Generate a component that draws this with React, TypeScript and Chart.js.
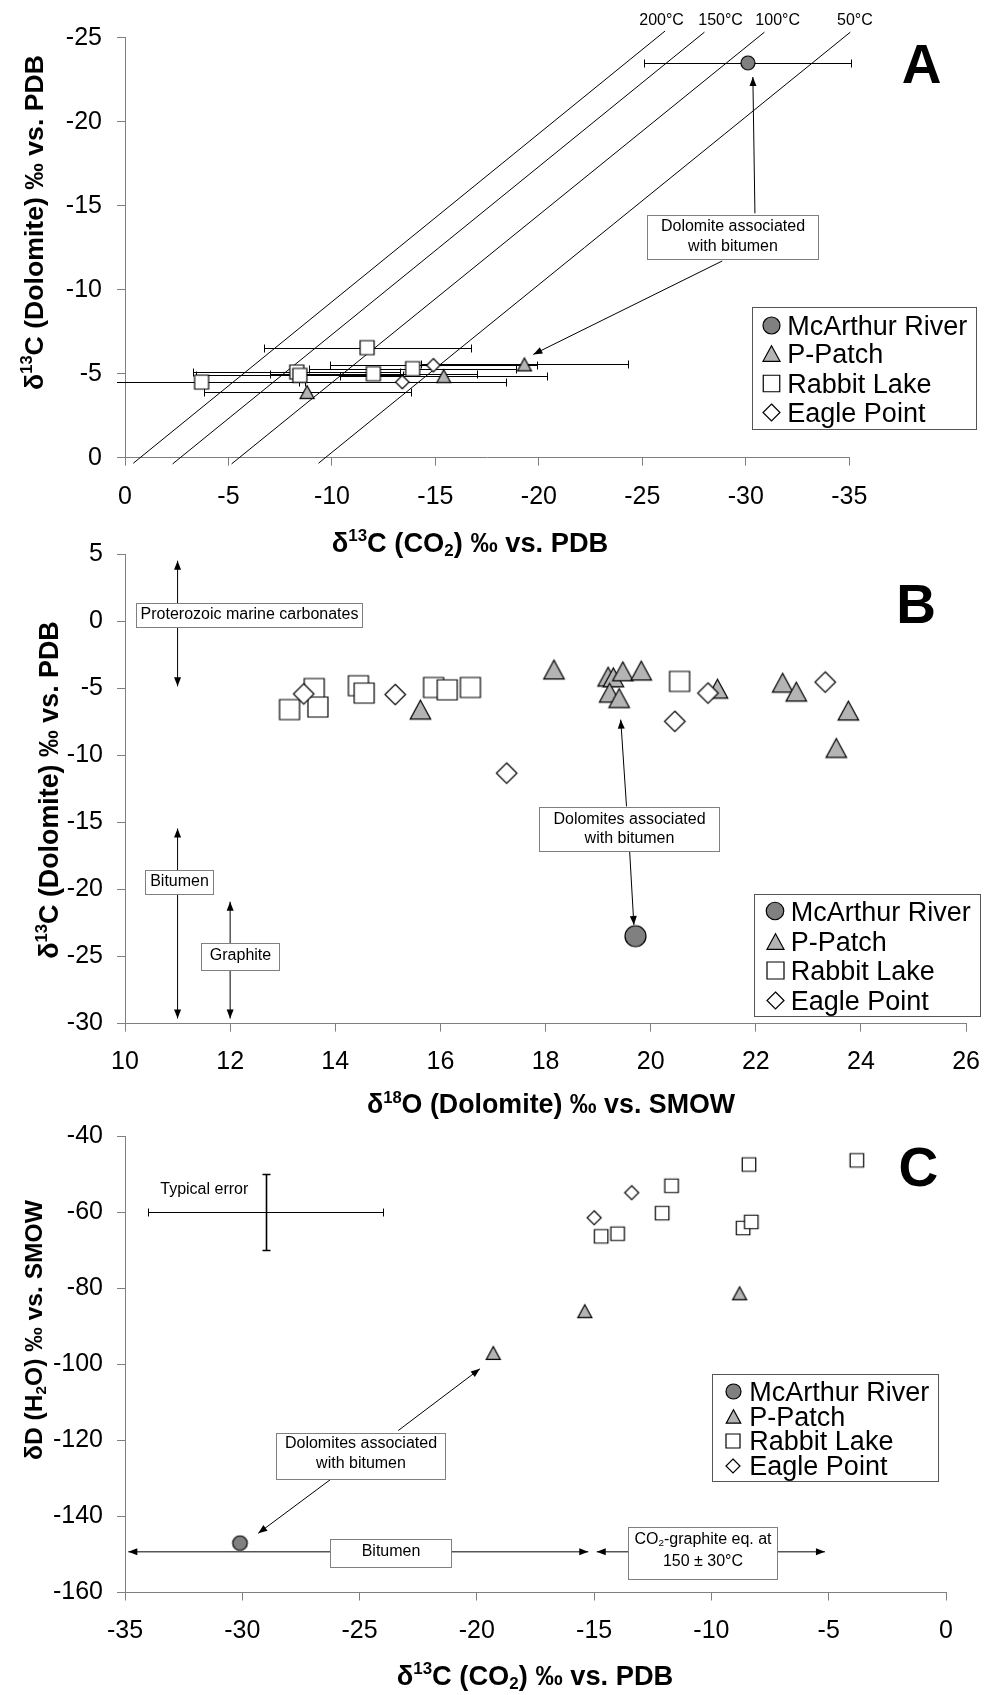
import React, { useEffect, useRef } from 'react';
import { Chart, registerables } from 'chart.js';

Chart.register(...registerables);

const FONT = "'Liberation Sans', Arial, Helvetica, sans-serif";
const AXIS = '#7f7f7f';
const BOXLINE = '#808080';
const CIRCLE_FILL = '#808080';
const TRI_FILL = '#b4b4b4';

const seriesNames = ['McArthur River', 'P-Patch', 'Rabbit Lake', 'Eagle Point'];

// ---------------- Panel A ----------------
const aXTicks = [0, -5, -10, -15, -20, -25, -30, -35];
const aXTickLabels = ['0', '-5', '-10', '-15', '-20', '-25', '-30', '-35'];
const aYTicks = [0, -5, -10, -15, -20, -25];
const aYTickLabels = ['0', '-5', '-10', '-15', '-20', '-25'];

const aMcArthurX = [-30.1];
const aMcArthurY = [-23.5];
const aMcArthurErr = [5];
const aPPatchX = [-8.8, -15.4, -19.3];
const aPPatchY = [-3.9, -4.85, -5.55];
const aPPatchErr = [5, 5, 5];
const aRabbitX = [-3.7, -8.3, -8.45, -11.7, -12.0, -13.9];
const aRabbitY = [-4.5, -5.1, -4.9, -6.55, -5.0, -5.3];
const aRabbitErr = [5, 5, 5, 5, 5, 5];
const aEagleX = [-13.4, -14.9];
const aEagleY = [-4.5, -5.5];
const aEagleErr = [5, 5];

const tempLabels = ['200°C', '150°C', '100°C', '50°C'];
const tempStartX = [-0.4, -2.3, -5.15, -9.35];
const tempStartY = [0.33, 0.37, 0.37, 0.33];
const tempEndX = [-26.1, -28.0, -30.9, -35.05];
const tempEndY = [-25.4, -25.33, -25.33, -25.33];
const tempLabelX = [-25.93, -28.78, -31.54, -35.27];
const tempLabelY = [-26.11, -26.11, -26.11, -26.11];

// ---------------- Panel B ----------------
const bXTicks = [10, 12, 14, 16, 18, 20, 22, 24, 26];
const bXTickLabels = ['10', '12', '14', '16', '18', '20', '22', '24', '26'];
const bYTicks = [5, 0, -5, -10, -15, -20, -25, -30];
const bYTickLabels = ['5', '0', '-5', '-10', '-15', '-20', '-25', '-30'];

const bMcArthurX = [19.71];
const bMcArthurY = [-23.48];
const bPPatchX = [15.62, 18.16, 19.19, 19.29, 19.47, 19.82, 19.22, 19.4, 21.27, 22.51, 22.77, 23.76, 23.53];
const bPPatchY = [-6.59, -3.6, -4.13, -4.18, -3.73, -3.68, -5.33, -5.73, -5.03, -4.58, -5.25, -6.66, -9.45];
const bRabbitX = [13.13, 13.6, 13.67, 14.44, 14.55, 15.87, 16.13, 16.57, 20.55];
const bRabbitY = [-6.58, -5.01, -6.39, -4.8, -5.35, -4.93, -5.11, -4.93, -4.48];
const bEagleX = [13.4, 15.14, 17.26, 20.46, 21.09, 23.32];
const bEagleY = [-5.41, -5.46, -11.32, -7.46, -5.35, -4.53];

// ---------------- Panel C ----------------
const cXTicks = [-35, -30, -25, -20, -15, -10, -5, 0];
const cXTickLabels = ['-35', '-30', '-25', '-20', '-15', '-10', '-5', '0'];
const cYTicks = [-40, -60, -80, -100, -120, -140, -160];
const cYTickLabels = ['-40', '-60', '-80', '-100', '-120', '-140', '-160'];

const cMcArthurX = [-30.1];
const cMcArthurY = [-147.0];
const cPPatchX = [-19.3, -15.4, -8.8];
const cPPatchY = [-97.0, -86.0, -81.3];
const cRabbitX = [-14.7, -14.0, -12.1, -11.7, -8.4, -8.65, -8.3, -3.8];
const cRabbitY = [-66.3, -65.6, -60.2, -53.0, -47.4, -64.1, -62.5, -46.3];
const cEagleX = [-15.0, -13.4];
const cEagleY = [-61.4, -54.8];

const typicalErrX = [-29];
const typicalErrY = [-60];
const typicalErrDX = [5];
const typicalErrDY = [10];

// ---------------- helpers ----------------
type Seg = { t: string; sup?: boolean; sub?: boolean };

function fnt(size: number, bold = false) {
  return `${bold ? 'bold ' : ''}${size}px ${FONT}`;
}

function richWidth(ctx: CanvasRenderingContext2D, segs: Seg[], size: number, bold: boolean) {
  let w = 0;
  for (const s of segs) {
    ctx.font = fnt(s.sup || s.sub ? size * 0.62 : size, bold);
    w += ctx.measureText(s.t).width;
  }
  return w;
}

function drawRich(ctx: CanvasRenderingContext2D, segs: Seg[], x: number, baseline: number, size: number, bold: boolean) {
  const w = richWidth(ctx, segs, size, bold);
  let cx = x - w / 2;
  ctx.textAlign = 'left';
  ctx.textBaseline = 'alphabetic';
  for (const s of segs) {
    const sz = s.sup || s.sub ? size * 0.62 : size;
    ctx.font = fnt(sz, bold);
    const dy = s.sup ? -size * 0.38 : s.sub ? size * 0.15 : 0;
    ctx.fillText(s.t, cx, baseline + dy);
    cx += ctx.measureText(s.t).width;
  }
}

function drawTitle(ctx: CanvasRenderingContext2D, segs: Seg[], cx: number, cy: number, targetW: number, rotate: boolean) {
  let size = 26;
  const w = richWidth(ctx, segs, size, true);
  size = (size * targetW) / w;
  ctx.save();
  ctx.translate(cx, cy);
  if (rotate) ctx.rotate(-Math.PI / 2);
  ctx.fillStyle = '#000';
  drawRich(ctx, segs, 0, (size * 0.716) / 2, size, true);
  ctx.restore();
}

function arrow(ctx: CanvasRenderingContext2D, x1: number, y1: number, x2: number, y2: number, startHead = false, endHead = true) {
  ctx.save();
  ctx.strokeStyle = '#000';
  ctx.fillStyle = '#000';
  ctx.lineWidth = 1;
  ctx.beginPath();
  ctx.moveTo(x1, y1);
  ctx.lineTo(x2, y2);
  ctx.stroke();
  const head = (tx: number, ty: number, fx: number, fy: number) => {
    const a = Math.atan2(ty - fy, tx - fx);
    const L = 9;
    const W = 3.5;
    ctx.beginPath();
    ctx.moveTo(tx, ty);
    ctx.lineTo(tx - L * Math.cos(a) + W * Math.sin(a), ty - L * Math.sin(a) - W * Math.cos(a));
    ctx.lineTo(tx - L * Math.cos(a) - W * Math.sin(a), ty - L * Math.sin(a) + W * Math.cos(a));
    ctx.closePath();
    ctx.fill();
  };
  if (endHead) head(x2, y2, x1, y1);
  if (startHead) head(x1, y1, x2, y2);
  ctx.restore();
}

function textBox(ctx: CanvasRenderingContext2D, xa: number, ya: number, xb: number, yb: number, lines: Seg[][], lineYs: number[], size = 16) {
  const l = Math.round(Math.min(xa, xb)) + 0.5;
  const r = Math.round(Math.max(xa, xb)) + 0.5;
  const t = Math.round(Math.min(ya, yb)) + 0.5;
  const b = Math.round(Math.max(ya, yb)) + 0.5;
  ctx.save();
  ctx.fillStyle = '#fff';
  ctx.fillRect(l, t, r - l, b - t);
  ctx.strokeStyle = BOXLINE;
  ctx.lineWidth = 1;
  ctx.strokeRect(l, t, r - l, b - t);
  ctx.fillStyle = '#000';
  lines.forEach((ln, i) => drawRich(ctx, ln, (l + r) / 2, lineYs[i] + (size * 0.716) / 2, size, false));
  ctx.restore();
}

function panelLetter(ctx: CanvasRenderingContext2D, letter: string, cx: number, cy: number) {
  ctx.save();
  ctx.font = fnt(55, true);
  ctx.fillStyle = '#000';
  ctx.textAlign = 'center';
  ctx.textBaseline = 'alphabetic';
  ctx.fillText(letter, cx, cy + (55 * 0.716) / 2);
  ctx.restore();
}

function drawLegend(ctx: CanvasRenderingContext2D, box: number[], rows: number[], mx: number, tx: number, markers: HTMLCanvasElement[], size = 27) {
  const [x1, y1, x2, y2] = box.map((v) => Math.round(v) + 0.5);
  ctx.save();
  ctx.fillStyle = '#fff';
  ctx.fillRect(x1, y1, x2 - x1, y2 - y1);
  ctx.strokeStyle = '#555';
  ctx.lineWidth = 1;
  ctx.strokeRect(x1, y1, x2 - x1, y2 - y1);
  ctx.font = fnt(size);
  ctx.fillStyle = '#000';
  ctx.textAlign = 'left';
  ctx.textBaseline = 'alphabetic';
  seriesNames.forEach((name, i) => {
    const m = markers[i];
    ctx.drawImage(m, Math.round(mx - m.width / 2), Math.round(rows[i] - m.height / 2));
    ctx.fillText(name, tx, rows[i] + (size * 0.716) / 2);
  });
  ctx.restore();
}

type Kind = 'circle' | 'triangle' | 'square' | 'diamond';
function makeMarker(kind: Kind, size: number): HTMLCanvasElement {
  const pad = 3;
  const w = Math.ceil(size) + pad * 2;
  const c = document.createElement('canvas');
  c.width = w;
  c.height = w;
  const g = c.getContext('2d')!;
  const m = w / 2;
  const h = size / 2;
  g.beginPath();
  if (kind === 'circle') g.arc(m, m, h, 0, Math.PI * 2);
  else if (kind === 'square') g.rect(m - h, m - h, size, size);
  else if (kind === 'diamond') {
    g.moveTo(m, m - h);
    g.lineTo(m + h, m);
    g.lineTo(m, m + h);
    g.lineTo(m - h, m);
    g.closePath();
  } else {
    const th = (size * 0.92) / 2;
    g.moveTo(m, m - th);
    g.lineTo(m + h, m + th);
    g.lineTo(m - h, m + th);
    g.closePath();
  }
  g.fillStyle = kind === 'circle' ? CIRCLE_FILL : kind === 'triangle' ? TRI_FILL : '#fff';
  g.fill();
  g.strokeStyle = '#000';
  g.lineWidth = 1.2;
  g.stroke();
  return c;
}

function pts(xs: number[], ys: number[]) {
  return xs.map((x, i) => ({ x, y: ys[i] }));
}

function markerDs(label: string, xs: number[], ys: number[], marker: HTMLCanvasElement) {
  return {
    label,
    data: pts(xs, ys),
    pointStyle: marker,
    pointRadius: 8,
    pointHoverRadius: 8,
    showLine: false,
  };
}

function lineDs(label: string, xs: number[], ys: number[]) {
  return {
    label,
    data: pts(xs, ys),
    showLine: true,
    borderColor: '#000',
    borderWidth: 1,
    pointRadius: 0,
    pointHoverRadius: 0,
    clip: false,
    fill: false,
  };
}

const Y_AXIS_W = 100;
const X_AXIS_H = 60;

function linAxis(min: number, max: number, reverse: boolean, ticks: number[], labels: string[], isX: boolean, pad: number) {
  return {
    type: 'linear',
    min,
    max,
    reverse,
    afterFit: (s: any) => {
      if (isX) s.height = X_AXIS_H;
      else s.width = Y_AXIS_W;
    },
    afterBuildTicks: (s: any) => {
      s.ticks = ticks.map((v) => ({ value: v }));
    },
    ticks: {
      autoSkip: false,
      maxRotation: 0,
      minRotation: 0,
      padding: pad,
      color: '#000',
      font: { family: FONT, size: 25 },
      callback: (v: any) => {
        const i = ticks.indexOf(v);
        return i >= 0 ? labels[i] : '';
      },
    },
    grid: { display: true, drawOnChartArea: false, drawTicks: true, tickLength: 8, tickWidth: 1, color: AXIS, lineWidth: 1 },
    border: { display: true, color: AXIS, width: 1 },
  };
}

function baseOptions(padding: any, x: any, y: any) {
  return {
    responsive: false,
    animation: false,
    devicePixelRatio: 1,
    events: [],
    layout: { padding, autoPadding: false },
    plugins: { legend: { display: false }, tooltip: { enabled: false }, title: { display: false } },
    scales: { x, y },
  };
}

const yTitleSegs: Seg[] = [{ t: 'δ' }, { t: '13', sup: true }, { t: 'C (Dolomite) ‰ vs. PDB' }];
const co2TitleSegs: Seg[] = [{ t: 'δ' }, { t: '13', sup: true }, { t: 'C (CO' }, { t: '2', sub: true }, { t: ') ‰ vs. PDB' }];
const o18TitleSegs: Seg[] = [{ t: 'δ' }, { t: '18', sup: true }, { t: 'O (Dolomite) ‰ vs. SMOW' }];
const dTitleSegs: Seg[] = [{ t: 'δD (H' }, { t: '2', sub: true }, { t: 'O) ‰ vs. SMOW' }];

const PAD_LEFT = 125 - Y_AXIS_W;

function configA() {
  const mk = [makeMarker('circle', 14), makeMarker('triangle', 14), makeMarker('square', 14), makeMarker('diamond', 13.5)];
  const lg = [makeMarker('circle', 17), makeMarker('triangle', 17), makeMarker('square', 16.5), makeMarker('diamond', 17)];
  const datasets: any[] = [
    markerDs(seriesNames[0], aMcArthurX, aMcArthurY, mk[0]),
    markerDs(seriesNames[3], aEagleX, aEagleY, mk[3]),
    markerDs(seriesNames[1], aPPatchX, aPPatchY, mk[1]),
    markerDs(seriesNames[2], aRabbitX, aRabbitY, mk[2]),
  ];
  tempLabels.forEach((t, i) => {
    datasets.push(lineDs(t, [tempStartX[i], tempEndX[i]], [tempStartY[i], tempEndY[i]]));
  });
  const plugin = {
    id: 'panelA',
    beforeDatasetsDraw(chart: any) {
      const ctx = chart.ctx as CanvasRenderingContext2D;
      const X = (v: number) => chart.scales.x.getPixelForValue(v);
      const Y = (v: number) => chart.scales.y.getPixelForValue(v);
      const ca = chart.chartArea;
      ctx.save();
      ctx.beginPath();
      ctx.rect(ca.left - 8, ca.top - 10, ca.right - ca.left + 16, ca.bottom - ca.top + 20);
      ctx.clip();
      ctx.strokeStyle = '#000';
      ctx.lineWidth = 1;
      const groups: number[][][] = [
        [aMcArthurX, aMcArthurY, aMcArthurErr],
        [aPPatchX, aPPatchY, aPPatchErr],
        [aRabbitX, aRabbitY, aRabbitErr],
        [aEagleX, aEagleY, aEagleErr],
      ];
      for (const [xs, ys, es] of groups) {
        xs.forEach((xv, i) => {
          const y = Math.round(Y(ys[i])) + 0.5;
          const x1 = Math.round(X(xv - es[i])) + 0.5;
          const x2 = Math.round(X(xv + es[i])) + 0.5;
          ctx.beginPath();
          ctx.moveTo(x1, y);
          ctx.lineTo(x2, y);
          ctx.moveTo(x1, y - 4);
          ctx.lineTo(x1, y + 4);
          ctx.moveTo(x2, y - 4);
          ctx.lineTo(x2, y + 4);
          ctx.stroke();
        });
      }
      ctx.restore();
    },
    afterDraw(chart: any) {
      const ctx = chart.ctx as CanvasRenderingContext2D;
      const X = (v: number) => chart.scales.x.getPixelForValue(v);
      const Y = (v: number) => chart.scales.y.getPixelForValue(v);
      ctx.save();
      ctx.font = fnt(16);
      ctx.fillStyle = '#000';
      ctx.textAlign = 'center';
      ctx.textBaseline = 'alphabetic';
      tempLabels.forEach((t, i) => ctx.fillText(t, X(tempLabelX[i]), Y(tempLabelY[i]) + 5.7));
      ctx.restore();
      arrow(ctx, X(-30.44), Y(-14.55), X(-30.34), Y(-22.66));
      arrow(ctx, X(-28.86), Y(-11.71), X(-19.73), Y(-6.15));
      textBox(ctx, X(-25.21), Y(-14.45), X(-33.47), Y(-11.81), [[{ t: 'Dolomite associated' }], [{ t: 'with bitumen' }]], [Y(-13.81), Y(-12.66)]);
      panelLetter(ctx, 'A', 921.7, 63);
      drawLegend(ctx, [751.7, 306.7, 976, 429], [325, 353.3, 383.3, 412.3], 771.7, 787.3, lg);
      drawTitle(ctx, co2TitleSegs, 470, 542, 276.6, false);
      drawTitle(ctx, yTitleSegs, 33, 222.5, 335, true);
    },
  };
  return {
    type: 'scatter',
    data: { datasets },
    options: baseOptions(
      { left: PAD_LEFT, right: 146.7, top: 37.7, bottom: 1695 - 457.7 - X_AXIS_H },
      linAxis(-35, 0, true, aXTicks, aXTickLabels, true, 16),
      linAxis(-25, 0, true, aYTicks, aYTickLabels, false, 15)
    ),
    plugins: [plugin],
  };
}

function configB() {
  const mk = [makeMarker('circle', 21), makeMarker('triangle', 20.5), makeMarker('square', 20), makeMarker('diamond', 20.5)];
  const lg = [makeMarker('circle', 17.5), makeMarker('triangle', 17), makeMarker('square', 17), makeMarker('diamond', 17)];
  const datasets: any[] = [
    markerDs(seriesNames[0], bMcArthurX, bMcArthurY, mk[0]),
    markerDs(seriesNames[3], bEagleX, bEagleY, mk[3]),
    markerDs(seriesNames[1], bPPatchX, bPPatchY, mk[1]),
    markerDs(seriesNames[2], bRabbitX, bRabbitY, mk[2]),
  ];
  const plugin = {
    id: 'panelB',
    afterDraw(chart: any) {
      const ctx = chart.ctx as CanvasRenderingContext2D;
      const X = (v: number) => chart.scales.x.getPixelForValue(v);
      const Y = (v: number) => chart.scales.y.getPixelForValue(v);
      arrow(ctx, X(11), Y(4.52), X(11), Y(-4.85), true, true);
      arrow(ctx, X(11), Y(-15.45), X(11), Y(-29.62), true, true);
      arrow(ctx, X(12), Y(-20.91), X(12), Y(-29.62), true, true);
      textBox(ctx, X(10.21), Y(1.38), X(14.5), Y(-0.41), [[{ t: 'Proterozoic marine carbonates' }]], [Y(0.6)]);
      textBox(ctx, X(10.38), Y(-18.51), X(11.67), Y(-20.32), [[{ t: 'Bitumen' }]], [Y(-19.3)]);
      textBox(ctx, X(11.44), Y(-23.98), X(12.92), Y(-25.97), [[{ t: 'Graphite' }]], [Y(-24.85)]);
      arrow(ctx, X(19.54), Y(-13.8), X(19.43), Y(-7.33));
      arrow(ctx, X(19.6), Y(-17.18), X(19.68), Y(-22.64));
      textBox(ctx, X(17.88), Y(-13.85), X(21.3), Y(-17.13), [[{ t: 'Dolomites associated' }], [{ t: 'with bitumen' }]], [Y(-14.66), Y(-16.07)]);
      panelLetter(ctx, 'B', 916, 603.6);
      drawLegend(ctx, [754.3, 893.6, 980, 1016], [911.4, 941.1, 970.7, 1000], 775, 790.7, lg);
      drawTitle(ctx, o18TitleSegs, 551, 1103.5, 368.3, false);
      drawTitle(ctx, yTitleSegs, 48, 790, 337.5, true);
    },
  };
  return {
    type: 'scatter',
    data: { datasets },
    options: baseOptions(
      { left: PAD_LEFT, right: 18.3, top: 554.3, bottom: 1695 - 1023.6 - X_AXIS_H },
      linAxis(10, 26, false, bXTicks, bXTickLabels, true, 16),
      linAxis(-30, 5, false, bYTicks, bYTickLabels, false, 14)
    ),
    plugins: [plugin],
  };
}

function configC() {
  const mk = [makeMarker('circle', 14.5), makeMarker('triangle', 14), makeMarker('square', 13.5), makeMarker('diamond', 14)];
  const lg = [makeMarker('circle', 15), makeMarker('triangle', 14.5), makeMarker('square', 14), makeMarker('diamond', 14)];
  const datasets: any[] = [
    markerDs(seriesNames[0], cMcArthurX, cMcArthurY, mk[0]),
    markerDs(seriesNames[3], cEagleX, cEagleY, mk[3]),
    markerDs(seriesNames[1], cPPatchX, cPPatchY, mk[1]),
    markerDs(seriesNames[2], cRabbitX, cRabbitY, mk[2]),
  ];
  const plugin = {
    id: 'panelC',
    afterDraw(chart: any) {
      const ctx = chart.ctx as CanvasRenderingContext2D;
      const X = (v: number) => chart.scales.x.getPixelForValue(v);
      const Y = (v: number) => chart.scales.y.getPixelForValue(v);
      ctx.save();
      ctx.strokeStyle = '#000';
      ctx.lineWidth = 1;
      typicalErrX.forEach((xv, i) => {
        const cx = Math.round(X(xv)) + 0.5;
        const cy = Math.round(Y(typicalErrY[i])) + 0.5;
        const xl = Math.round(X(xv - typicalErrDX[i])) + 0.5;
        const xr = Math.round(X(xv + typicalErrDX[i])) + 0.5;
        const yt = Math.round(Y(typicalErrY[i] + typicalErrDY[i])) + 0.5;
        const yb = Math.round(Y(typicalErrY[i] - typicalErrDY[i])) + 0.5;
        ctx.beginPath();
        ctx.moveTo(xl, cy);
        ctx.lineTo(xr, cy);
        ctx.moveTo(xl, cy - 4);
        ctx.lineTo(xl, cy + 4);
        ctx.moveTo(xr, cy - 4);
        ctx.lineTo(xr, cy + 4);
        ctx.stroke();
        ctx.lineWidth = 1.6;
        ctx.beginPath();
        ctx.moveTo(cx, yt);
        ctx.lineTo(cx, yb);
        ctx.moveTo(cx - 4, yt);
        ctx.lineTo(cx + 4, yt);
        ctx.moveTo(cx - 4, yb);
        ctx.lineTo(cx + 4, yb);
        ctx.stroke();
      });
      ctx.font = fnt(16);
      ctx.fillStyle = '#000';
      ctx.textAlign = 'center';
      ctx.textBaseline = 'alphabetic';
      ctx.fillText('Typical error', X(-31.62), Y(-53.73) + 5.7);
      ctx.restore();
      arrow(ctx, X(-34.86), Y(-149.3), X(-15.25), Y(-149.3), true, true);
      textBox(ctx, X(-26.26), Y(-145.85), X(-21.11), Y(-153.42), [[{ t: 'Bitumen' }]], [Y(-148.9)]);
      arrow(ctx, X(-14.89), Y(-149.3), X(-5.16), Y(-149.3), true, true);
      textBox(
        ctx,
        X(-13.57),
        Y(-142.82),
        X(-7.19),
        Y(-156.34),
        [[{ t: 'CO' }, { t: '2', sub: true }, { t: '-graphite eq. at' }], [{ t: '150 ± 30°C' }]],
        [Y(-145.74), Y(-151.48)]
      );
      arrow(ctx, X(-23.35), Y(-117.38), X(-19.87), Y(-101.15));
      arrow(ctx, X(-26.26), Y(-130.37), X(-29.32), Y(-144.42));
      textBox(ctx, X(-28.56), Y(-117.93), X(-21.36), Y(-130.14), [[{ t: 'Dolomites associated' }], [{ t: 'with bitumen' }]], [Y(-120.6), Y(-125.82)]);
      panelLetter(ctx, 'C', 918.3, 1166.4);
      drawLegend(ctx, [712.3, 1373.7, 937.7, 1480.7], [1391.4, 1416.1, 1440.8, 1465.5], 733.3, 749.3, lg);
      drawTitle(ctx, co2TitleSegs, 535, 1675, 276.6, false);
      drawTitle(ctx, dTitleSegs, 33, 1330, 260, true);
    },
  };
  return {
    type: 'scatter',
    data: { datasets },
    options: baseOptions(
      { left: PAD_LEFT, right: 50, top: 1136.4, bottom: 1695 - 1592.5 - X_AXIS_H },
      linAxis(-35, 0, false, cXTicks, cXTickLabels, true, 16),
      linAxis(-160, -40, false, cYTicks, cYTickLabels, false, 14)
    ),
    plugins: [plugin],
  };
}

export default function App() {
  const refA = useRef<HTMLCanvasElement>(null);
  const refB = useRef<HTMLCanvasElement>(null);
  const refC = useRef<HTMLCanvasElement>(null);

  useEffect(() => {
    Chart.defaults.font.family = FONT;
    const charts: Chart[] = [];
    if (refA.current) charts.push(new Chart(refA.current, configA() as any));
    if (refB.current) charts.push(new Chart(refB.current, configB() as any));
    if (refC.current) charts.push(new Chart(refC.current, configC() as any));
    return () => charts.forEach((c) => c.destroy());
  }, []);

  const cs: React.CSSProperties = { position: 'absolute', left: 0, top: 0, width: 996, height: 1695 };
  return (
    <div style={{ position: 'absolute', left: 0, top: 0, width: 996, height: 1695, background: '#fff', overflow: 'hidden' }}>
      <canvas ref={refA} width={996} height={1695} style={cs} />
      <canvas ref={refB} width={996} height={1695} style={cs} />
      <canvas ref={refC} width={996} height={1695} style={cs} />
    </div>
  );
}
